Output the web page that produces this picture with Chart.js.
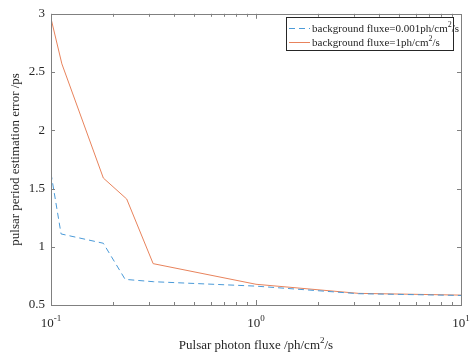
<!DOCTYPE html>
<html>
<head>
<meta charset="utf-8">
<script src="https://cdn.jsdelivr.net/npm/chart.js@4"></script>
<style>
 html,body{margin:0;padding:0;background:#fff}
 canvas{display:block}
</style>
</head>
<body>
<canvas id="chart" width="473" height="353"></canvas>
<script>
/* ===== data ===== */
const lowFlux = [0.1, 0.112, 0.18, 0.23, 0.316, 1, 3.16, 10];
const lowErr  = [1.63, 1.11, 1.03, 0.72, 0.70, 0.662, 0.597, 0.582];
const highFlux = [0.1, 0.113, 0.18, 0.234, 0.315, 1, 3.16, 10];
const highErr  = [2.96, 2.57, 1.59, 1.41, 0.855, 0.678, 0.600, 0.585];
const seriesNames = ["background fluxe=0.001ph/cm\u00b2/s", "background fluxe=1ph/cm\u00b2/s"];
const yTicks = [0.5, 1, 1.5, 2, 2.5, 3];
const xDecades = [-1, 0, 1];

const FONT = "'Liberation Serif','Times New Roman',serif";
const AXIS = "#262626";
const BORDER = "#808080";

function pts(xs, ys){ return xs.map((x,i)=>({x, y:ys[i]})); }

/* ===== axes, ticks, legend ===== */
const boxPlugin = {
 id:"box",
 afterDraw(c){
  const ctx=c.ctx, a=c.chartArea, xs=c.scales.x, ys=c.scales.y;
  ctx.save();
  ctx.strokeStyle=BORDER; ctx.lineWidth=1;
  ctx.strokeRect(Math.round(a.left)+0.5, Math.round(a.top)+0.5,
   Math.round(a.right-a.left), Math.round(a.bottom-a.top));
  // x ticks (major + minor), bottom and top, inward
  for(let d=-1; d<1; d++){
   for(let k=1;k<10;k++){
    const v=k*Math.pow(10,d);
    const px=Math.round(xs.getPixelForValue(v))+0.5;
    const len=k===1?5:3;
    ctx.beginPath();
    ctx.moveTo(px,a.bottom); ctx.lineTo(px,a.bottom-len);
    ctx.moveTo(px,a.top); ctx.lineTo(px,a.top+len);
    ctx.stroke();
   }
  }
  // y ticks left and right
  yTicks.forEach(v=>{
   const py=Math.round(ys.getPixelForValue(v))+0.5;
   ctx.beginPath();
   ctx.moveTo(a.left,py); ctx.lineTo(a.left+4,py);
   ctx.moveTo(a.right,py); ctx.lineTo(a.right-4,py);
   ctx.stroke();
  });
  // x tick labels 10^n
  ctx.fillStyle=AXIS;
  xDecades.forEach(d=>{
   const px=xs.getPixelForValue(Math.pow(10,d));
   const base="10", sup=String(d);
   ctx.font="13px "+FONT;
   const bw=ctx.measureText(base).width;
   ctx.font="9px "+FONT;
   const sw=ctx.measureText(sup).width;
   const x0=px-(bw+sw)/2;
   ctx.textBaseline="alphabetic"; ctx.textAlign="left";
   ctx.font="13px "+FONT;
   ctx.fillText(base,x0,a.bottom+22);
   ctx.font="9px "+FONT;
   ctx.fillText(sup,x0+bw,a.bottom+16);
  });
  // x title
  ctx.font="13px "+FONT;
  const t1="Pulsar photon fluxe /ph/cm", t2="/s";
  const w1=ctx.measureText(t1).width, w2=ctx.measureText(t2).width;
  ctx.font="9px "+FONT;
  const w3=ctx.measureText("2").width;
  let tx=(a.left+a.right)/2-(w1+w2+w3)/2;
  ctx.font="13px "+FONT;
  ctx.fillText(t1,tx,a.bottom+44);
  ctx.font="9px "+FONT;
  ctx.fillText("2",tx+w1,a.bottom+38);
  ctx.font="13px "+FONT;
  ctx.fillText(t2,tx+w1+w3,a.bottom+44);
  // y title
  ctx.save();
  ctx.translate(19,(a.top+a.bottom)/2);
  ctx.rotate(-Math.PI/2);
  ctx.textAlign="center";
  ctx.fillText("pulsar period estimation error /ps",0,0);
  ctx.restore();
  // legend
  const lx=286, ly=17, lw=167, lh=33;
  ctx.fillStyle="#fff";
  ctx.fillRect(lx,ly,lw,lh);
  ctx.strokeStyle="#262626";
  ctx.strokeRect(lx+0.5,ly+0.5,lw,lh);
  c.data.datasets.forEach((ds,i)=>{
   const y=ly+11+i*14;
   ctx.strokeStyle=ds.borderColor; ctx.lineWidth=1;
   ctx.setLineDash(ds.borderDash||[]);
   ctx.beginPath(); ctx.moveTo(lx+3,y+0.5); ctx.lineTo(lx+24,y+0.5); ctx.stroke();
   ctx.setLineDash([]);
   ctx.fillStyle=AXIS; ctx.textAlign="left"; ctx.textBaseline="middle";
   const parts=ds.label.split("\u00b2");
   ctx.font="11px "+FONT;
   ctx.fillText(parts[0],lx+26,y+1);
   const pw=ctx.measureText(parts[0]).width;
   ctx.font="8px "+FONT;
   ctx.fillText("2",lx+26+pw,y-3);
   const sw2=ctx.measureText("2").width;
   ctx.font="11px "+FONT;
   ctx.fillText(parts[1],lx+26+pw+sw2,y+1);
  });
  ctx.restore();
 }
};

new Chart(document.getElementById("chart"),{
 type:"line",
 data:{datasets:[
  {label:seriesNames[0], data:pts(lowFlux,lowErr), borderColor:"#4a9ad8",
   borderDash:[6,4], borderWidth:1, pointRadius:0, tension:0},
  {label:seriesNames[1], data:pts(highFlux,highErr), borderColor:"#e8835c",
   borderWidth:1, pointRadius:0, tension:0}
 ]},
 options:{
  responsive:false, animation:false, devicePixelRatio:1,
  layout:{padding:{top:10,right:12,left:0,bottom:0}},
  plugins:{legend:{display:false}, tooltip:{enabled:false}},
  scales:{
   x:{type:"logarithmic", min:0.1, max:10,
    grid:{display:false, drawTicks:false}, border:{display:false},
    ticks:{display:false},
    afterFit(s){ s.height=48; }},
   y:{min:0.5, max:3,
    grid:{display:false, drawTicks:false}, border:{display:false},
    afterBuildTicks(s){ s.ticks=yTicks.map(v=>({value:v})); },
    ticks:{font:{family:FONT,size:13}, color:AXIS, padding:6,
     callback:v=>String(v)},
    afterFit(s){ s.width=51; }}
  }
 },
 plugins:[boxPlugin]
});
</script>
</body>
</html>
